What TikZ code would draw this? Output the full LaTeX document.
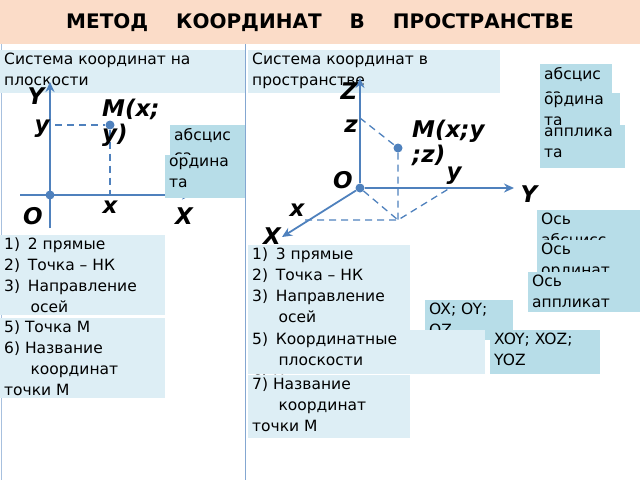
\documentclass[tikz,border=0pt]{standalone}
\usepackage{fontspec}
\setmainfont{DejaVu Sans}
\usetikzlibrary{arrows.meta}
\definecolor{axisblue}{HTML}{4F81BD}
\definecolor{palebox}{HTML}{DDEEF5}
\definecolor{darkbox}{HTML}{B7DDE8}
\definecolor{headbg}{HTML}{FBDCC8}
% fixed-size cell, text may run out below and is covered by later cells
\newcommand{\cell}[3]{\parbox[t][#2pt][t]{#1pt}{\raggedright #3}}
\tikzset{
  pale/.style = {fill=palebox, anchor=north west, inner xsep=4pt, inner ysep=3pt,
                 font=\fontsize{15.5}{21}\selectfont},
  dark/.style = {pale, fill=darkbox},
  axis/.style = {axisblue, line width=1.8pt, -{Stealth[length=10pt,width=9pt]}},
  proj/.style = {axisblue, line width=1.3pt, dash pattern=on 7pt off 5pt},
  pt/.style   = {circle, fill=axisblue, inner sep=0pt, minimum size=9pt},
  lbl/.style  = {font=\fontsize{23}{25}\selectfont\bfseries\itshape, inner sep=0pt}
}
\begin{document}
\begin{tikzpicture}[x=1pt, y=-1pt]
  \useasboundingbox (0,0) rectangle (640,480);
  % header
  \fill[headbg] (0,0) rectangle (640,44);
  \node[font=\fontsize{20}{22}\selectfont\bfseries] (title) at (320,23)
    {МЕТОД\hspace{1.4em}КООРДИНАТ\hspace{1.4em}В\hspace{1.4em}ПРОСТРАНСТВЕ};
  \draw[axisblue!70, line width=1pt] (245,44) -- (245,480);
  \draw[axisblue!50, line width=1pt] (1,44) -- (1,480);
  % headings
  \node[pale] (plane) at (0,50) {\cell{237}{37}{Система координат на\\плоскости}};
  \node[pale] (space) at (248,50) {\cell{244}{37}{Система координат в\\пространстве}};
  % plane
  \node[pt] (O2) at (50,195) {};
  \node[pt] (M2) at (110,125) {};
  \coordinate (ybot) at (50,228);
  \coordinate (ytop) at (50,82);
  \coordinate (xleft) at (20,195);
  \coordinate (xright) at (192,195);
  \coordinate (ymark) at (55,125);
  \coordinate (xmark) at (110,195);
  \draw[axis] (ybot) -- (ytop);
  \draw[axis] (xleft) -- (xright);
  \draw[proj] (ymark) -- (M2);
  \draw[proj] (M2) -- (xmark);
  \node[lbl] (Ylab2) at (36,96) {Y};
  \node[lbl] (ylab2) at (42,129) {y};
  \node[lbl, align=left, anchor=west] (Mlab2) at (102,123) {M(x;\\y)};
  \node[lbl] (xlab2) at (110,207) {x};
  \node[lbl] (Olab2) at (33,216) {O};
  \node[lbl] (Xlab2) at (184,216) {X};
  \node[dark] (abs2) at (170,125) {\cell{67}{24}{абсцис\\са}};
  \node[dark] (ord2) at (165,155) {\cell{72}{37}{ордина\\та}};
  \node[pale] (list2a) at (0,235)
    {\cell{157}{74}{1)\enspace 2 прямые\\2)\enspace Точка – НК\\3)\enspace Направление\\\hspace*{1.7em}осей}};
  \node[pale] (list2b) at (0,318)
    {\cell{157}{74}{5) Точка М\\6) Название\\\hspace*{1.7em}координат\\точки М}};
  % space
  \node[pt] (O3) at (360,188) {};
  \node[pt] (M3) at (398,148) {};
  \coordinate (ztop) at (360,78);
  \coordinate (yend) at (514,188);
  \coordinate (xend) at (282,237);
  \coordinate (zmark) at (360,118);
  \coordinate (foot) at (398,220);
  \coordinate (xmark3) at (305,220);
  \coordinate (ymark3) at (450,188);
  \draw[axis] (O3) -- (ztop);
  \draw[axis] (O3) -- (yend);
  \draw[axis] (O3) -- (xend);
  \draw[proj] (zmark) -- (M3) -- (foot);
  \draw[proj] (xmark3) -- (foot) -- (ymark3);
  \draw[proj] (O3) -- (foot);
  \node[lbl] (Zlab3) at (349,91) {Z};
  \node[lbl] (zlab3) at (351,126) {z};
  \node[lbl, align=left, anchor=west] (Mlab3) at (412,143) {M(x;y\\;z)};
  \node[lbl] (ylab3) at (454,176) {y};
  \node[lbl] (Olab3) at (343,180) {O};
  \node[lbl] (Ylab3) at (529,194) {Y};
  \node[lbl] (xlab3) at (297,210) {x};
  \node[lbl] (Xlab3) at (272,236) {X};
  \node[dark] (abs3) at (540,64) {\cell{64}{25}{абсцис\\са}};
  \node[dark] (ord3) at (540,93) {\cell{72}{26}{ордина\\та}};
  \node[dark] (app3) at (540,125) {\cell{77}{37}{апплика\\та}};
  \node[dark] (axabs) at (537,210) {\cell{95}{27}{Ось\\абсцисс}};
  \node[dark] (axord) at (537,240) {\cell{95}{26}{Ось\\ординат}};
  \node[dark] (axapp) at (528,272) {\cell{104}{34}{Ось\\аппликат}};
  \node[pale] (list3a) at (248,245)
    {\cell{154}{79}{1)\enspace 3 прямые\\2)\enspace Точка – НК\\3)\enspace Направление\\\hspace*{1.7em}осей\\4)\enspace Название осей}};
  \node[dark] (axes) at (425,300) {\cell{80}{34}{OX; OY;\\OZ}};
  \node[pale] (list3b) at (248,330)
    {\cell{229}{38}{5)\enspace Координатные\\\hspace*{1.7em}плоскости\\6) Название}};
  \node[dark] (planes) at (490,330) {\cell{102}{38}{XOY; XOZ;\\YOZ}};
  \node[pale] (list3c) at (248,375)
    {\cell{154}{57}{7) Название\\\hspace*{1.7em}координат\\точки М}};
\end{tikzpicture}
\end{document}
